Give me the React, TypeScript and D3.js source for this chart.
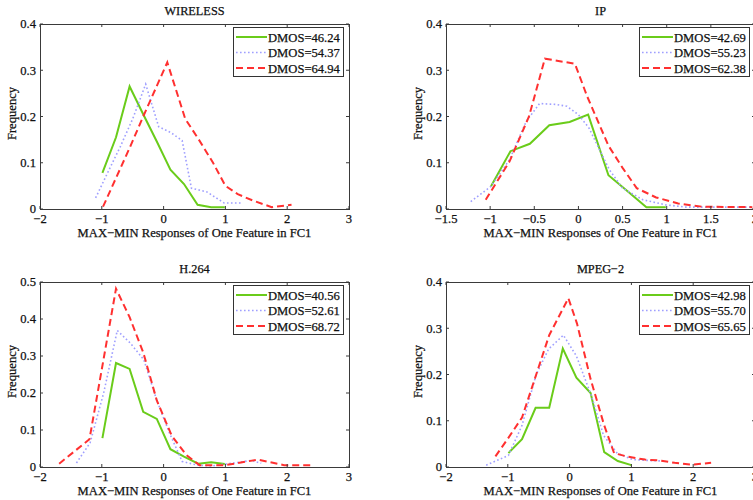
import React from 'react';
import * as d3 from 'd3';

// histograms of MAX-MIN responses as [x, frequency]
const titles = ['WIRELESS', 'IP', 'H.264', 'MPEG\u22122'];

const wirelessLow = [[-0.99, 0.078], [-0.77, 0.155], [-0.55, 0.265], [-0.33, 0.205], [-0.11, 0.146], [0.11, 0.085], [0.33, 0.054], [0.55, 0.009], [0.77, 0.004], [0.99, 0.004]];
const wirelessMid = [[-1.1, 0.024], [-0.9, 0.08], [-0.7, 0.135], [-0.5, 0.195], [-0.29, 0.27], [-0.08, 0.178], [0.12, 0.165], [0.3, 0.148], [0.45, 0.045], [0.7, 0.037], [0.98, 0.013], [1.25, 0.013]];
const wirelessHigh = [[-0.98, 0.005], [-0.76, 0.07], [-0.54, 0.135], [-0.33, 0.2], [-0.13, 0.26], [0.06, 0.317], [0.35, 0.195], [0.57, 0.15], [0.8, 0.1], [1.0, 0.05], [1.2, 0.032], [1.45, 0.018], [1.75, 0.004], [2.07, 0.009]];

const ipLow = [[-0.99, 0.049], [-0.77, 0.125], [-0.55, 0.141], [-0.33, 0.181], [-0.1, 0.188], [0.11, 0.204], [0.34, 0.073], [0.56, 0.038], [0.77, 0.004], [0.99, 0.004]];
const ipMid = [[-1.22, 0.016], [-0.99, 0.049], [-0.78, 0.107], [-0.59, 0.19], [-0.44, 0.228], [-0.25, 0.226], [-0.13, 0.222], [0.0, 0.204], [0.12, 0.175], [0.24, 0.128], [0.35, 0.085], [0.5, 0.045], [0.73, 0.02], [0.99, 0.009], [1.22, 0.004], [1.97, 0.004]];
const ipHigh = [[-1.05, 0.02], [-0.78, 0.103], [-0.56, 0.2], [-0.38, 0.325], [-0.04, 0.314], [0.1, 0.243], [0.34, 0.137], [0.5, 0.089], [0.66, 0.045], [0.88, 0.025], [1.13, 0.012], [1.4, 0.005], [1.97, 0.004]];

const h264Low = [[-0.99, 0.078], [-0.77, 0.281], [-0.55, 0.265], [-0.33, 0.149], [-0.11, 0.13], [0.11, 0.048], [0.33, 0.028], [0.56, 0.009], [0.77, 0.013], [0.99, 0.008]];
const h264Mid = [[-1.41, 0.011], [-1.19, 0.065], [-0.97, 0.2], [-0.75, 0.369], [-0.54, 0.335], [-0.32, 0.29], [-0.11, 0.18], [0.1, 0.09], [0.3, 0.015], [0.55, 0.005], [0.78, 0.003], [1.0, 0.008], [1.2, 0.012], [1.42, 0.018], [1.58, 0.01]];
const h264High = [[-1.69, 0.009], [-1.2, 0.075], [-0.77, 0.482], [-0.55, 0.405], [-0.33, 0.31], [-0.11, 0.18], [0.13, 0.085], [0.37, 0.032], [0.58, 0.005], [1.0, 0.005], [1.25, 0.012], [1.52, 0.02], [1.75, 0.012], [1.95, 0.005], [2.42, 0.005]];

const mpegLow = [[-0.99, 0.03], [-0.77, 0.06], [-0.55, 0.128], [-0.33, 0.128], [-0.11, 0.256], [0.11, 0.193], [0.34, 0.16], [0.56, 0.032], [0.78, 0.013], [1.0, 0.004]];
const mpegMid = [[-1.35, 0.004], [-0.99, 0.025], [-0.77, 0.09], [-0.54, 0.2], [-0.34, 0.255], [-0.1, 0.285], [0.11, 0.24], [0.35, 0.155], [0.55, 0.068], [0.77, 0.03], [1.02, 0.016], [1.3, 0.014], [1.5, 0.013]];
const mpegHigh = [[-1.2, 0.023], [-0.98, 0.065], [-0.77, 0.107], [-0.54, 0.2], [-0.33, 0.285], [-0.02, 0.365], [0.12, 0.31], [0.34, 0.19], [0.56, 0.09], [0.72, 0.03], [0.95, 0.022], [1.22, 0.016], [1.46, 0.014], [1.7, 0.009], [1.96, 0.005], [2.29, 0.009]];

const wirelessDmos = ['DMOS=46.24', 'DMOS=54.37', 'DMOS=64.94'];
const ipDmos = ['DMOS=42.69', 'DMOS=55.23', 'DMOS=62.38'];
const h264Dmos = ['DMOS=40.56', 'DMOS=52.61', 'DMOS=68.72'];
const mpegDmos = ['DMOS=42.98', 'DMOS=55.70', 'DMOS=65.65'];

const xTicksWide = [-2, -1, 0, 1, 2, 3];
const xTicksIp = [-1.5, -1, -0.5, 0, 0.5, 1, 1.5, 2];
const yTicks4 = [0, 0.1, 0.2, 0.3, 0.4];
const yTicks5 = [0, 0.1, 0.2, 0.3, 0.4, 0.5];

const panels = [
  { title: titles[0], series: [wirelessLow, wirelessMid, wirelessHigh], labels: wirelessDmos, xTicks: xTicksWide, yTicks: yTicks4, left: 40, top: 24 },
  { title: titles[1], series: [ipLow, ipMid, ipHigh], labels: ipDmos, xTicks: xTicksIp, yTicks: yTicks4, left: 446, top: 24 },
  { title: titles[2], series: [h264Low, h264Mid, h264High], labels: h264Dmos, xTicks: xTicksWide, yTicks: yTicks5, left: 40, top: 282 },
  { title: titles[3], series: [mpegLow, mpegMid, mpegHigh], labels: mpegDmos, xTicks: xTicksWide, yTicks: yTicks4, left: 446, top: 282 },
];

const W = 309;
const H = 185;
const FONT = 'Liberation Serif';
// slight stroke so the text reads as heavy as the scanned figure
const txt = { fontFamily: FONT, fontSize: '12.6px', fill: '#111', stroke: '#111', strokeWidth: 0.25 };
const styles = [
  { stroke: '#6acc1a', width: 2, dash: null },
  { stroke: '#9f9fff', width: 1.6, dash: '1.6,2.4' },
  { stroke: '#ff3030', width: 2, dash: '7,4' },
];

const fmt = (t: number) => String(t).replace('-', '\u2212');

const Panel = ({ p, idx }: any) => {
  const x = d3.scaleLinear().domain([p.xTicks[0], p.xTicks[p.xTicks.length - 1]]).range([0, W]);
  const y = d3.scaleLinear().domain([0, p.yTicks[p.yTicks.length - 1]]).range([H, 0]);
  const line = d3.line<number[]>().x(d => x(d[0])).y(d => y(d[1]));
  const tick = 3;

  return (
    <g transform={`translate(${p.left},${p.top})`}>
      <defs>
        <clipPath id={`clip${idx}`}>
          <rect x={0} y={0} width={W} height={H} />
        </clipPath>
      </defs>

      {/* series */}
      <g clipPath={`url(#clip${idx})`}>
        {p.series.map((s: number[][], i: number) => (
          <path key={i} d={line(s) || ''} fill="none" stroke={styles[i].stroke}
            strokeWidth={styles[i].width} strokeDasharray={styles[i].dash || undefined} />
        ))}
      </g>

      {/* box and ticks, matlab style */}
      <rect x={0.5} y={0.5} width={W} height={H} fill="none" stroke="#3a3a3a" strokeWidth={1} />
      {p.xTicks.map((t: number) => (
        <g key={'x' + t}>
          <line x1={x(t)} x2={x(t)} y1={H} y2={H - tick} stroke="#3a3a3a" />
          <line x1={x(t)} x2={x(t)} y1={0} y2={tick} stroke="#3a3a3a" />
          <text x={x(t)} y={H + 14} textAnchor="middle" style={txt}>{fmt(t)}</text>
        </g>
      ))}
      {p.yTicks.map((t: number) => (
        <g key={'y' + t}>
          <line x1={0} x2={tick} y1={y(t)} y2={y(t)} stroke="#3a3a3a" />
          <line x1={W} x2={W - tick} y1={y(t)} y2={y(t)} stroke="#3a3a3a" />
          <text x={-4} y={y(t)} dy="0.35em" textAnchor="end" style={txt}>{fmt(t)}</text>
        </g>
      ))}

      <text x={W / 2} y={-9} textAnchor="middle" style={{ ...txt, fontSize: '12.3px' }}>{p.title}</text>
      <text x={W / 2} y={H + 28} textAnchor="middle" style={txt}>{'MAX\u2212MIN Responses of One Feature in FC1'}</text>
      <text transform={`translate(-24,${H / 2 - 3}) rotate(-90)`} textAnchor="middle" style={txt}>Frequency</text>

      {/* legend */}
      <g transform={`translate(${W - 116},${3})`}>
        <rect x={0.5} y={0.5} width={110} height={49} fill="#fff" stroke="#333" strokeWidth={1} />
        {p.labels.map((lab: string, i: number) => (
          <g key={lab} transform={`translate(0,${10 + i * 15.5})`}>
            <line x1={3} x2={34} y1={0} y2={0} stroke={styles[i].stroke} strokeWidth={styles[i].width}
              strokeDasharray={styles[i].dash || undefined} />
            <text x={35} y={4.5} style={txt}>{lab}</text>
          </g>
        ))}
      </g>
    </g>
  );
};

export default function App() {
  return (
    <svg width={753} height={500} style={{ position: 'absolute', left: 0, top: 0, background: '#fff' }}>
      <rect width={753} height={500} fill="#fff" />
      {panels.map((p, i) => <Panel key={i} p={p} idx={i} />)}
    </svg>
  );
}
